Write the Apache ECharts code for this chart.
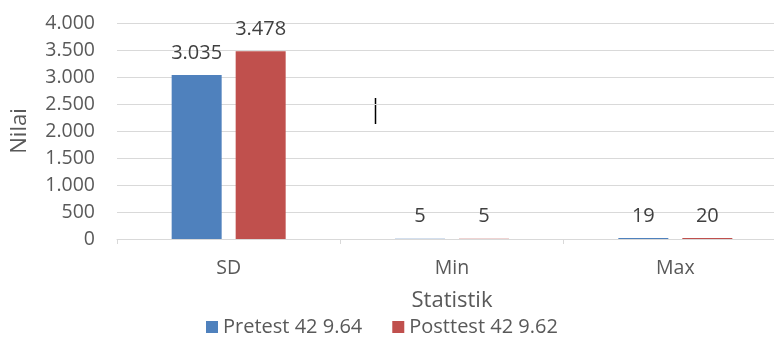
<!DOCTYPE html>
<html><head><meta charset="utf-8">
<script src="https://cdn.jsdelivr.net/npm/echarts@6/dist/echarts.min.js"></script>
<style>html,body{margin:0;padding:0;background:#fff;overflow:hidden;width:774px;height:345px}#c{width:787px;height:345px}</style>
</head><body><div id="c"></div>
<script>
const categories = ['SD', 'Min', 'Max'];
const seriesNames = ['Pretest 42 9.64', 'Posttest 42 9.62'];
const pretest = [3035, 5, 19];
const posttest = [3478, 5, 20];
const yTicks = {min: 0, max: 4000, interval: 500};

function fmt(v){ return String(v).replace(/\B(?=(\d{3})+(?!\d))/g, '.'); }
const font = "'Open Sans', 'Liberation Sans', sans-serif";
const chart = echarts.init(document.getElementById('c'), null, {renderer:'canvas'});
const lbl = {show:true, position:'top', distance:12, color:'#404040', fontSize:20, fontFamily:font, formatter:p=>fmt(p.value)};
chart.setOption({
  animation:false,
  textStyle:{fontFamily:font},
  grid:{left:117, right:0, top:23, bottom:106, containLabel:false},
  legend:{bottom:3, left:201, itemWidth:12, itemHeight:12, itemGap:30, icon:'rect',
    textStyle:{color:'#595959', fontSize:20, fontFamily:font}, data:seriesNames},
  xAxis:{type:'category', data:categories, name:'Statistik', nameLocation:'middle', nameGap:51,
    nameTextStyle:{color:'#595959', fontSize:22, fontFamily:font},
    axisLine:{lineStyle:{color:'#d9d9d9', width:1}},
    axisTick:{show:true, length:5, lineStyle:{color:'#d9d9d9'}},
    axisLabel:{color:'#595959', fontSize:19.5, margin:19, fontFamily:font}},
  yAxis:{type:'value', min:yTicks.min, max:yTicks.max, interval:yTicks.interval, name:'Nilai',
    nameLocation:'middle', nameGap:86, nameRotate:90,
    nameTextStyle:{color:'#595959', fontSize:22, fontFamily:font},
    axisLine:{show:false}, axisTick:{show:false},
    splitLine:{lineStyle:{color:'#d9d9d9', width:1}},
    axisLabel:{color:'#595959', fontSize:19.5, margin:22, fontFamily:font, formatter:v=>fmt(v)}},
  series:[
    {name:seriesNames[0], type:'bar', data:pretest, barWidth:50, barGap:'28%', itemStyle:{color:'#4F81BD'}, label:lbl},
    {name:seriesNames[1], type:'bar', data:posttest, barWidth:50, itemStyle:{color:'#C0504D'}, label:lbl}
  ],
  graphic:[{type:'line', shape:{x1:375.5, y1:98, x2:375.5, y2:124}, style:{stroke:'#000', lineWidth:1.5}}]
});
</script></body></html>
